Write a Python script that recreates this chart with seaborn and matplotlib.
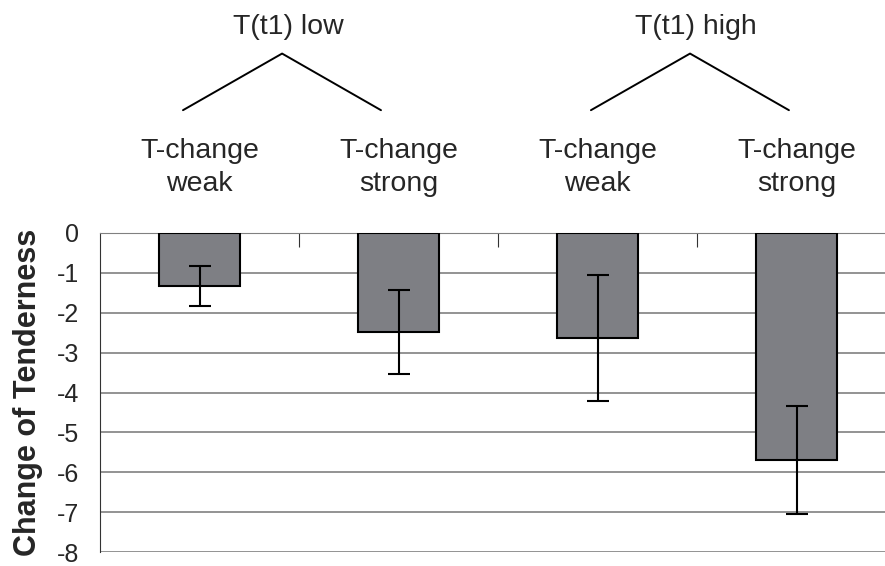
import seaborn as sns
import pandas as pd
import matplotlib.pyplot as plt

# data
groups = ['T(t1) low', 'T(t1) high']
conditions = ['T-change\nweak', 'T-change\nstrong', 'T-change\nweak', 'T-change\nstrong']
means = [-1.34, -2.49, -2.63, -5.69]
errs = [0.50, 1.05, 1.58, 1.36]
yticks = [0, -1, -2, -3, -4, -5, -6, -7, -8]

df = pd.DataFrame({'pos': [0, 1, 2, 3], 'mean': means})

sns.set_style('white')
plt.rcParams['font.family'] = ['Liberation Sans', 'DejaVu Sans']

fig = plt.figure(figsize=(8.85, 5.66), dpi=100)
ax = fig.add_axes([100 / 885, 14 / 566, 796 / 885, 319 / 566])

sns.barplot(x='pos', y='mean', data=df, color='#7e7f84', saturation=1,
            width=0.41, edgecolor='black', linewidth=1.5, errorbar=None,
            order=[0, 1, 2, 3], ax=ax, zorder=3)
ax.errorbar(range(len(means)), means, yerr=errs, fmt='none', ecolor='black',
            elinewidth=1.5, capsize=8, capthick=1.5, zorder=4)

ax.set_xlim(-0.5, 3.5)
ax.set_ylim(-8, 0)
ax.set_yticks(yticks)
ax.set_yticklabels([str(t) for t in yticks], fontsize=18)
ax.yaxis.grid(True, color='#808080', linewidth=1.2, zorder=0)
ax.set_axisbelow(True)
ax.tick_params(axis='y', direction='out', length=7, color='#808080', pad=8)

# category separators hang down from the zero line
ax.set_xticks([0.5, 1.5, 2.5])
ax.set_xticklabels([])
ax.xaxis.set_ticks_position('top')
ax.tick_params(axis='x', direction='in', length=10, color='#333333')
ax.set_xlabel('')

for s in ['right', 'bottom']:
    ax.spines[s].set_visible(False)
ax.spines['top'].set_color('#808080')
ax.spines['left'].set_color('#333333')

ax.set_ylabel('Change of Tenderness', fontsize=22, fontweight='bold', labelpad=10)

# condition labels above the bars
for i, lab in enumerate(conditions):
    ax.text(i, 1.65, lab, ha='center', va='center', fontsize=20.5,
            linespacing=1.33, clip_on=False)

# group labels with brackets
bx = [[-0.083, 0.415, 0.912], [1.967, 2.465, 2.962]]
for g, xs in zip(groups, bx):
    ax.plot(xs, [3.08, 4.5, 3.08], color='black', lw=1.4, clip_on=False)
    ax.text(xs[1] + 0.03, 5.17, g, ha='center', va='center', fontsize=20.5,
            clip_on=False)

plt.savefig('out.png', dpi=100)
